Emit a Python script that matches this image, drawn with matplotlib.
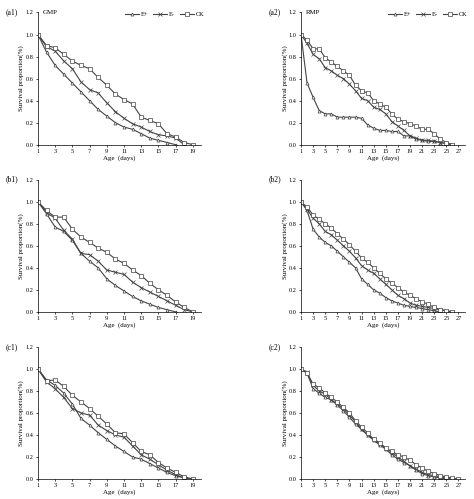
import matplotlib
matplotlib.use("Agg")
import matplotlib.pyplot as plt

plt.rcParams["font.family"] = ["Liberation Serif", "DejaVu Serif"]

# survival proportions, day 1 onwards
a1_ep = [1, 0.84, 0.72, 0.64, 0.56, 0.48, 0.40, 0.32, 0.26, 0.20, 0.16, 0.14, 0.10, 0.06, 0.04, 0.02, 0.0]
a1_em = [1, 0.89, 0.85, 0.76, 0.69, 0.57, 0.50, 0.47, 0.38, 0.30, 0.24, 0.19, 0.16, 0.12, 0.09, 0.08, 0.06, 0.0]
a1_ck = [1, 0.90, 0.88, 0.82, 0.76, 0.72, 0.69, 0.61, 0.54, 0.46, 0.41, 0.37, 0.25, 0.22, 0.19, 0.10, 0.07, 0.02, 0.0]

a2_ep = [1, 0.56, 0.43, 0.31, 0.28, 0.28, 0.25, 0.25, 0.25, 0.25, 0.24, 0.18, 0.15, 0.13, 0.13, 0.12,
         0.12, 0.08, 0.08, 0.05, 0.04, 0.03, 0.03, 0.02, 0.01, 0.0]
a2_em = [1, 0.92, 0.82, 0.78, 0.70, 0.67, 0.63, 0.60, 0.55, 0.49, 0.42, 0.40, 0.34, 0.32, 0.28, 0.21,
         0.17, 0.13, 0.08, 0.06, 0.04, 0.04, 0.03, 0.02, 0.01, 0.0]
a2_ck = [1, 0.95, 0.87, 0.87, 0.79, 0.75, 0.71, 0.67, 0.63, 0.54, 0.49, 0.47, 0.40, 0.37, 0.34, 0.28,
         0.23, 0.21, 0.19, 0.17, 0.14, 0.14, 0.10, 0.05, 0.02, 0.0]

b1_ep = [1, 0.89, 0.77, 0.73, 0.65, 0.53, 0.46, 0.40, 0.30, 0.24, 0.19, 0.14, 0.10, 0.07, 0.04, 0.02, 0.0]
b1_em = [1, 0.90, 0.85, 0.74, 0.66, 0.53, 0.52, 0.46, 0.38, 0.36, 0.34, 0.27, 0.22, 0.18, 0.14, 0.10, 0.06, 0.02, 0.0]
b1_ck = [1, 0.92, 0.86, 0.86, 0.75, 0.68, 0.63, 0.58, 0.54, 0.48, 0.44, 0.38, 0.33, 0.26, 0.20, 0.15, 0.09, 0.04, 0.0]

b2_ep = [1, 0.92, 0.75, 0.68, 0.63, 0.60, 0.55, 0.50, 0.45, 0.40, 0.30, 0.25, 0.20, 0.17, 0.13, 0.10,
         0.08, 0.06, 0.05, 0.04, 0.03, 0.02, 0.01, 0.0]
b2_em = [1, 0.93, 0.85, 0.80, 0.73, 0.70, 0.65, 0.60, 0.55, 0.49, 0.42, 0.38, 0.35, 0.30, 0.25, 0.20,
         0.15, 0.12, 0.08, 0.06, 0.05, 0.04, 0.03, 0.02, 0.01, 0.0]
b2_ck = [1, 0.95, 0.88, 0.84, 0.80, 0.76, 0.71, 0.66, 0.61, 0.55, 0.49, 0.45, 0.40, 0.35, 0.30, 0.26,
         0.22, 0.18, 0.15, 0.12, 0.09, 0.07, 0.04, 0.02, 0.01, 0.0]

c1_ep = [1, 0.90, 0.85, 0.78, 0.68, 0.55, 0.49, 0.42, 0.36, 0.30, 0.25, 0.20, 0.18, 0.14, 0.10, 0.06, 0.03, 0.01, 0.0]
c1_em = [1, 0.88, 0.82, 0.74, 0.64, 0.60, 0.58, 0.49, 0.44, 0.40, 0.38, 0.30, 0.22, 0.18, 0.13, 0.08, 0.04, 0.01, 0.0]
c1_ck = [1, 0.89, 0.90, 0.84, 0.76, 0.70, 0.64, 0.57, 0.50, 0.42, 0.41, 0.33, 0.25, 0.22, 0.15, 0.10, 0.06, 0.02, 0.0]

c2_ep = [1, 0.96, 0.82, 0.78, 0.74, 0.72, 0.67, 0.62, 0.56, 0.50, 0.45, 0.40, 0.35, 0.31, 0.27, 0.22,
         0.18, 0.15, 0.12, 0.08, 0.05, 0.03, 0.02, 0.01, 0.0]
c2_em = [1, 0.97, 0.85, 0.80, 0.77, 0.72, 0.68, 0.64, 0.58, 0.52, 0.45, 0.40, 0.36, 0.32, 0.28, 0.24,
         0.20, 0.16, 0.12, 0.09, 0.06, 0.04, 0.03, 0.02, 0.01, 0.0]
c2_ck = [1, 0.96, 0.86, 0.83, 0.78, 0.74, 0.70, 0.65, 0.60, 0.53, 0.47, 0.42, 0.36, 0.33, 0.28, 0.25,
         0.22, 0.20, 0.17, 0.13, 0.10, 0.07, 0.05, 0.03, 0.02, 0.01, 0.0]

panels = [
    ("(a1)", "GMP", 19, (a1_ep, a1_em, a1_ck)),
    ("(a2)", "RMP", 27, (a2_ep, a2_em, a2_ck)),
    ("(b1)", "", 19, (b1_ep, b1_em, b1_ck)),
    ("(b2)", "", 27, (b2_ep, b2_em, b2_ck)),
    ("(c1)", "", 19, (c1_ep, c1_em, c1_ck)),
    ("(c2)", "", 27, (c2_ep, c2_em, c2_ck)),
]
labels = ["E+", "E-", "CK"]
markers = ["^", "x", "s"]

fig = plt.figure(figsize=(4.74, 4.99), dpi=100)
lefts = [0.08, 0.635]
bottoms = [0.71, 0.375, 0.04]
w, h = 0.345, 0.265
for i, (tag, name, xmax, series) in enumerate(panels):
    ax = fig.add_axes([lefts[i % 2], bottoms[i // 2], w, h])
    for ys, lab, mk in zip(series, labels, markers):
        days = range(1, len(ys) + 1)
        ax.plot(days, ys, color="#444444", lw=0.8, marker=mk, ms=2.2,
                mfc="white", mec="#444444", mew=0.5, label=lab)
    ax.set_xlim(1, xmax + 1)
    ax.set_ylim(0, 1.2)
    ax.set_xticks(range(1, xmax + 1, 2))
    ax.set_yticks([0, 0.2, 0.4, 0.6, 0.8, 1.0, 1.2])
    ax.set_yticklabels([f"{v:.1f}" for v in [0, 0.2, 0.4, 0.6, 0.8, 1.0, 1.2]])
    ax.tick_params(labelsize=4.5, length=1.5, width=0.5, pad=1.5)
    for s in ["top", "right"]:
        ax.spines[s].set_visible(False)
    for s in ["left", "bottom"]:
        ax.spines[s].set_linewidth(0.5)
    ax.set_xlabel("Age  (days)", fontsize=5, labelpad=1)
    ax.set_ylabel("Survival proportion(%)", fontsize=5, labelpad=1)
    ax.text(-0.2, 1.0, tag, transform=ax.transAxes, fontsize=5.5, va="center")
    if name:
        ax.text(0.03, 1.0, name, transform=ax.transAxes, fontsize=5, va="center")
    if i < 2:
        ax.legend(loc="upper right", bbox_to_anchor=(1.05, 1.05), ncol=3, fontsize=4.5,
                  frameon=False, handlelength=2.2, columnspacing=0.8, handletextpad=0.3)

fig.savefig("out.png", dpi=100)
